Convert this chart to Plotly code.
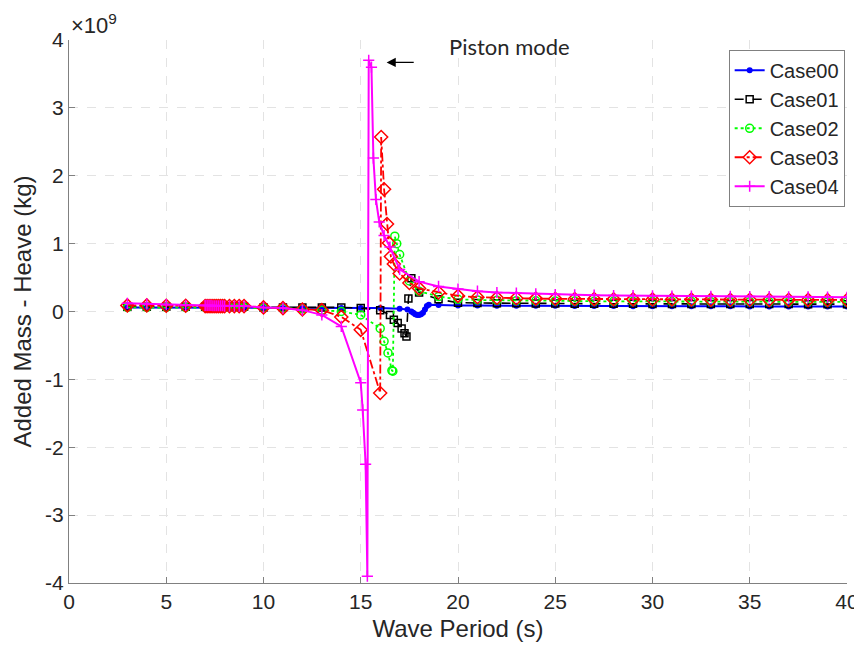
"""
Added mass (heave) against wave period for the five cases
"""

import numpy as np
import plotly.graph_objs as go

# Periods shared by every case below 15 s and above 20 s
P_LOW = [3, 4, 5, 6, 7.0, 7.1, 7.2, 7.3, 7.4, 7.5, 7.6, 7.7, 7.8, 7.9, 8.0,
         8.25, 8.5, 8.75, 9.0, 10, 11, 12, 13, 14]
P_TAIL = [20, 21, 22, 23, 24, 25, 26, 27, 28, 29, 30, 31, 32, 33, 34, 35,
          36, 37, 38, 39, 40]

# Periods around the piston resonance, per case
P_MID_00 = [15, 16, 17, 17.4, 17.6, 17.7, 17.8, 17.9, 18.0, 18.1, 18.2, 18.3,
            18.4, 18.5, 19]
P_MID_01 = [15, 16, 16.5, 16.7, 16.9, 17.1, 17.25, 17.35, 17.45, 17.6, 18, 19]
P_MID_02 = [15, 16, 16.2, 16.4, 16.6, 16.65, 16.75, 16.85, 17.0, 17.5, 18, 19]
P_MID_03 = [15, 16, 16.05, 16.2, 16.35, 16.45, 16.55, 16.7, 17, 17.5, 18, 19]
P_MID_04 = [15, 15.1, 15.25, 15.34, 15.41, 15.55, 15.65, 15.78, 15.95, 16.2,
            16.5, 17, 18, 19]

# Added mass values (x 1e9 kg)
A_LOW_00 = [0.06, 0.06, 0.06, 0.06, 0.06, 0.06, 0.06, 0.06, 0.06, 0.06, 0.06,
            0.06, 0.06, 0.06, 0.06, 0.06, 0.06, 0.06, 0.06, 0.055, 0.05, 0.05,
            0.05, 0.05]
A_MID_00 = [0.05, 0.05, 0.04, 0.03, 0.0, -0.02, -0.04, -0.05, -0.05, -0.04,
            -0.02, 0.03, 0.08, 0.10, 0.095]
A_TAIL_00 = [0.09, 0.088, 0.086, 0.085, 0.084, 0.083, 0.082, 0.081, 0.080,
             0.079, 0.078, 0.078, 0.077, 0.076, 0.076, 0.075, 0.075, 0.074,
             0.074, 0.073, 0.073]

A_LOW_01 = [0.07, 0.07, 0.07, 0.07, 0.07, 0.07, 0.07, 0.07, 0.07, 0.07, 0.07,
            0.07, 0.07, 0.07, 0.07, 0.07, 0.07, 0.07, 0.07, 0.06, 0.06, 0.06,
            0.06, 0.06]
A_MID_01 = [0.05, 0.02, -0.05, -0.12, -0.17, -0.25, -0.32, -0.37, 0.19, 0.49,
            0.28, 0.18]
A_TAIL_01 = [0.13, 0.125, 0.122, 0.12, 0.118, 0.117, 0.116, 0.115, 0.114,
             0.113, 0.112, 0.112, 0.111, 0.111, 0.110, 0.110, 0.109, 0.109,
             0.108, 0.108, 0.108]

A_LOW_02 = [0.06, 0.06, 0.06, 0.06, 0.06, 0.06, 0.06, 0.06, 0.06, 0.06, 0.06,
            0.06, 0.06, 0.06, 0.06, 0.06, 0.06, 0.06, 0.06, 0.05, 0.05, 0.04,
            0.02, 0.0]
A_MID_02 = [-0.05, -0.25, -0.44, -0.61, -0.87, -0.88, 1.11, 1.0, 0.84, 0.45,
            0.30, 0.22]
A_TAIL_02 = [0.18, 0.17, 0.165, 0.16, 0.157, 0.155, 0.153, 0.151, 0.15, 0.149,
             0.148, 0.147, 0.146, 0.145, 0.144, 0.144, 0.143, 0.142, 0.142,
             0.141, 0.141]

A_LOW_03 = [0.09, 0.09, 0.085, 0.085, 0.08, 0.08, 0.08, 0.08, 0.08, 0.08, 0.08,
            0.08, 0.08, 0.08, 0.08, 0.08, 0.08, 0.08, 0.08, 0.06, 0.05, 0.03,
            0.02, -0.08]
A_MID_03 = [-0.27, -1.2, 2.57, 1.8, 1.29, 1.01, 0.81, 0.70, 0.56, 0.42, 0.34,
            0.28]
A_TAIL_03 = [0.23, 0.21, 0.20, 0.195, 0.19, 0.187, 0.185, 0.183, 0.181, 0.179,
             0.178, 0.177, 0.176, 0.175, 0.174, 0.173, 0.172, 0.172, 0.171,
             0.170, 0.170]

A_LOW_04 = [0.12, 0.11, 0.10, 0.09, 0.09, 0.09, 0.09, 0.09, 0.085, 0.085,
            0.085, 0.085, 0.085, 0.085, 0.08, 0.08, 0.08, 0.08, 0.08, 0.06,
            0.05, 0.02, -0.05, -0.22]
A_MID_04 = [-1.05, -1.45, -2.25, -3.9, 3.70, 3.6, 2.26, 1.65, 1.32, 1.12, 0.95,
            0.62, 0.44, 0.37]
A_TAIL_04 = [0.33, 0.30, 0.28, 0.27, 0.26, 0.25, 0.245, 0.24, 0.236, 0.233,
             0.23, 0.228, 0.226, 0.224, 0.222, 0.220, 0.218, 0.216, 0.214,
             0.212, 0.21]

Y_TICKS = [-4, -3, -2, -1, 0, 1, 2, 3, 4]
X_TICKS = [0, 5, 10, 15, 20, 25, 30, 35, 40]

FONT = "Liberation Sans, Arial, sans-serif"
TEXT_COLOR = "#262626"
AXIS_COLOR = "#808080"


def build_case(name, mid_p, low_a, mid_a, tail_a, color, dash, width,
               symbol, size):
    """
    One case as a line with markers, periods and values joined in order
    """
    x = P_LOW + mid_p + P_TAIL
    y = np.array(low_a + mid_a + tail_a) * 1e9
    open_marker = symbol != "circle"
    return go.Scatter(
        x=x,
        y=y,
        mode="lines+markers",
        name=name,
        line=dict(color=color, width=width, dash=dash),
        marker=dict(
            symbol=symbol,
            size=size,
            color=color,
            line=dict(color=color, width=1.5 if open_marker else 0)
        )
    )


def build_added_mass():
    data = [
        build_case("Case00", P_MID_00, A_LOW_00, A_MID_00, A_TAIL_00,
                   "#0000FF", "solid", 2, "circle", 6),
        build_case("Case01", P_MID_01, A_LOW_01, A_MID_01, A_TAIL_01,
                   "#000000", "dash", 1.6, "square-open", 7),
        build_case("Case02", P_MID_02, A_LOW_02, A_MID_02, A_TAIL_02,
                   "#00FF00", "dot", 1.8, "circle-open", 8),
        build_case("Case03", P_MID_03, A_LOW_03, A_MID_03, A_TAIL_03,
                   "#FF0000", "dashdot", 1.8, "diamond-open", 10),
        build_case("Case04", P_MID_04, A_LOW_04, A_MID_04, A_TAIL_04,
                   "#FF00FF", "solid", 2, "cross-thin-open", 8),
    ]

    axis_common = dict(
        automargin=False,
        showline=True,
        linecolor=AXIS_COLOR,
        linewidth=1,
        mirror=False,
        ticks="inside",
        ticklen=6,
        tickcolor=AXIS_COLOR,
        showgrid=True,
        gridcolor="#e3e3e3",
        griddash="dash",
        zeroline=False,
        tickfont=dict(size=21, color=TEXT_COLOR, family=FONT),
    )

    # the page body adds 8px around the figure, so the figure is
    # 8px smaller each way than the browser window
    layout = go.Layout(
        width=854,
        height=642,
        margin=dict(l=61, r=15, t=32, b=67),
        paper_bgcolor="white",
        plot_bgcolor="white",
        font=dict(family=FONT, color=TEXT_COLOR),
        xaxis=dict(
            range=[0, 40],
            tickvals=X_TICKS,
            title=dict(text="Wave Period (s)", font=dict(size=24), standoff=7),
            **axis_common
        ),
        yaxis=dict(
            range=[-4e9, 4e9],
            tickvals=[v * 1e9 for v in Y_TICKS],
            ticktext=[str(v) for v in Y_TICKS],
            title=dict(text="Added Mass - Heave (kg)", font=dict(size=24),
                       standoff=6),
            **axis_common
        ),
        legend=dict(
            x=0.997,
            y=0.982,
            xanchor="right",
            yanchor="top",
            bgcolor="white",
            bordercolor=AXIS_COLOR,
            borderwidth=1,
            font=dict(size=20, color=TEXT_COLOR, family=FONT),
            tracegroupgap=0,
        ),
        annotations=[
            # axis exponent, MATLAB style
            dict(
                text="\u00d710<sup>9</sup>",
                xref="paper", yref="paper",
                x=0.0, y=1.0,
                xanchor="left", yanchor="bottom",
                showarrow=False,
                font=dict(size=22, color=TEXT_COLOR, family=FONT),
            ),
            # label with an arrow pointing at the piston mode peak
            dict(
                text="Piston mode",
                x=16.33, y=3.67e9,
                ax=19.42, ay=3.67e9,
                xref="x", yref="y", axref="x", ayref="y",
                xanchor="left", yanchor="bottom",
                showarrow=True,
                startstandoff=33,
                arrowhead=2,
                arrowsize=1.4,
                arrowwidth=1.3,
                arrowcolor="black",
                font=dict(size=22, color="#262626", family="Lato, Open Sans"),
            ),
        ],
        showlegend=True,
    )

    return go.Figure(data=data, layout=layout)


fig = build_added_mass()
fig.write_html("out.html")
